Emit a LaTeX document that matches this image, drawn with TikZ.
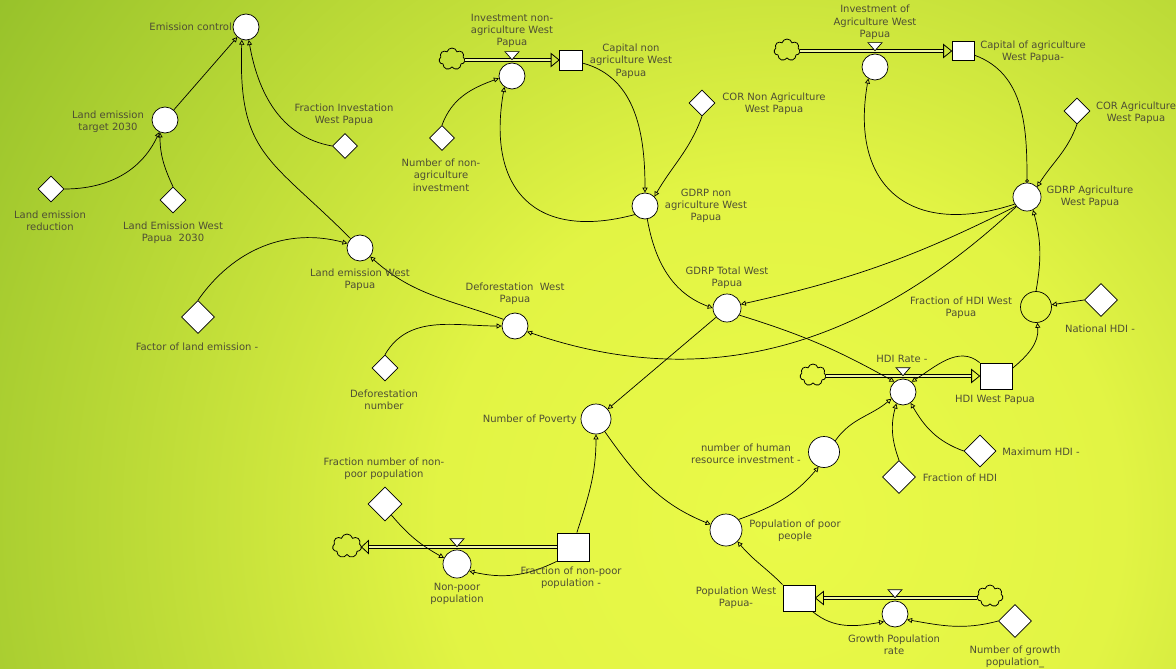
\documentclass[tikz,border=0pt]{standalone}
\usepackage{fontspec}
\setmainfont{DejaVu Sans}
\usetikzlibrary{shapes.geometric,shapes.symbols,arrows.meta}
\definecolor{txt}{RGB}{78,78,52}
\definecolor{bgA}{RGB}{234,250,72}
\definecolor{bgB}{RGB}{226,244,68}
\definecolor{bgC}{RGB}{150,193,42}
\definecolor{pipein}{RGB}{238,248,160}
\pgfdeclareradialshading{bgshade}{\pgfpoint{0bp}{0bp}}{color(0bp)=(bgA); color(9bp)=(bgB); color(25bp)=(bgC); color(50bp)=(bgC)}
\begin{document}
\begin{tikzpicture}[x=1pt,y=1pt,
  aux/.style={circle,draw,fill=white,line width=0.7pt,minimum size=26pt,inner sep=0pt},
  cons/.style={diamond,draw,fill=white,line width=0.7pt,minimum size=26pt,inner sep=0pt},
  stock/.style={rectangle,draw,fill=white,line width=0.8pt,inner sep=0pt},
  cl/.style={cloud,cloud puffs=7,aspect=1.15,draw,line width=0.8pt,minimum width=26pt,minimum height=22pt,inner sep=0pt},
  lbl/.style={text=txt,align=center,font=\fontsize{10}{12.3}\selectfont,inner sep=0pt},
  link/.style={line width=0.7pt,-{Triangle[open,length=5pt,width=5pt]}},
  olink/.style={line width=0.7pt,-{Circle[open,length=3.5pt]}},
  pipe/.style={line width=1.1pt,double=pipein,double distance=2.2pt},
  ftip/.style={line width=0.8pt},
  valve/.style={line width=0.7pt,fill=white}
]
\useasboundingbox (0,0) rectangle (1176,-669);
\begin{scope}
\clip (0,0) rectangle (1176,-669);
\fill[bgC] (0,0) rectangle (1176,-669);
\shade[shading=bgshade] (780,-520) circle (950);
\end{scope}

% auxiliaries
\node[aux] (EC) at (246,-27) {};
\node[aux] (LET) at (165,-120) {};
\node[aux] (LEWP) at (360,-248) {};
\node[aux] (DWP) at (515,-326) {};
\node[aux,minimum size=30pt] (NP) at (596,-419) {};
\node[aux] (INA) at (512,-76) {};
\node[aux] (GNA) at (645,-206) {};
\node[aux] (IA) at (875,-67) {};
\node[aux,minimum size=28pt] (GA) at (1027,-197) {};
\node[aux,minimum size=28pt] (GT) at (727,-308) {};
\node[aux,fill=none,minimum size=31pt] (FHDI) at (1036,-307) {};
\node[aux] (HDIR) at (903,-392) {};
\node[aux,minimum size=31pt] (NHRI) at (824,-452) {};
\node[aux,minimum size=32pt] (PP) at (726,-530) {};
\node[aux,minimum size=28pt] (NPP) at (457,-564) {};
\node[aux] (GPR) at (895,-614) {};

% constants
\node[cons] (LER) at (51,-189) {};
\node[cons] (LEW30) at (173,-200) {};
\node[cons,minimum size=25pt] (FIWP) at (345,-146) {};
\node[cons,minimum size=33pt] (FLE) at (198,-317) {};
\node[cons] (DN) at (385,-368) {};
\node[cons,minimum size=25pt] (NNAI) at (442,-138) {};
\node[cons] (CORNA) at (702,-103) {};
\node[cons] (CORA) at (1077,-111) {};
\node[cons,minimum size=33pt] (NHDI) at (1101,-300) {};
\node[cons,minimum size=32pt] (MHDI) at (980,-451) {};
\node[cons,minimum size=33pt] (FHDIc) at (899,-477) {};
\node[cons,minimum size=34pt] (FNNP) at (385,-504) {};
\node[cons,minimum size=33pt] (NGP) at (1015,-621) {};

% stocks
\node[stock,minimum width=23pt,minimum height=20pt] (CNA) at (571,-60) {};
\node[stock,minimum width=22pt,minimum height=19pt] (CA) at (963,-51) {};
\node[stock,minimum width=32pt,minimum height=26pt] (HDIW) at (996,-376) {};
\node[stock,minimum width=32pt,minimum height=28pt] (FNP) at (573,-547) {};
\node[stock,minimum width=32pt,minimum height=26pt] (PWP) at (799,-598) {};

% clouds
\node[cl] (C1) at (452,-59) {};
\node[cl] (C2) at (787,-50) {};
\node[cl] (C3) at (813,-375) {};
\node[cl,minimum width=29pt,minimum height=24pt] (C4) at (347,-546) {};
\node[cl] (C5) at (990,-596) {};

% flow 1
\coordinate (S1) at (C1.east |- CNA.west);
\coordinate (T1) at ([xshift=-8pt]CNA.west);
\draw[pipe] (S1) -- (T1);
\draw[ftip] ([yshift=6.5pt]T1) -- (CNA.west) -- ([yshift=-6.5pt]T1) -- cycle;
\draw[valve] ([yshift=3pt]INA.north) -- ([shift={(-7pt,11pt)}]INA.north) -- ([shift={(7pt,11pt)}]INA.north) -- cycle;
% flow 2
\coordinate (S2) at (C2.east |- CA.west);
\coordinate (T2) at ([xshift=-8pt]CA.west);
\draw[pipe] (S2) -- (T2);
\draw[ftip] ([yshift=6.5pt]T2) -- (CA.west) -- ([yshift=-6.5pt]T2) -- cycle;
\draw[valve] ([yshift=3pt]IA.north) -- ([shift={(-7pt,11pt)}]IA.north) -- ([shift={(7pt,11pt)}]IA.north) -- cycle;
% flow 3
\coordinate (S3) at (C3.east |- HDIW.west);
\coordinate (T3) at ([xshift=-8pt]HDIW.west);
\draw[pipe] (S3) -- (T3);
\draw[ftip] ([yshift=6.5pt]T3) -- (HDIW.west) -- ([yshift=-6.5pt]T3) -- cycle;
\draw[valve] ([yshift=3pt]HDIR.north) -- ([shift={(-7pt,11pt)}]HDIR.north) -- ([shift={(7pt,11pt)}]HDIR.north) -- cycle;
% flow 4 (outflow to cloud)
\coordinate (E4) at (C4.east |- FNP.west);
\coordinate (T4) at ([xshift=7pt]E4);
\draw[pipe] (FNP.west) -- (T4);
\draw[ftip] ([yshift=6.5pt]T4) -- (E4) -- ([yshift=-6.5pt]T4) -- cycle;
\draw[valve] ([yshift=3pt]NPP.north) -- ([shift={(-7pt,11pt)}]NPP.north) -- ([shift={(7pt,11pt)}]NPP.north) -- cycle;
% flow 5
\coordinate (S5) at (C5.west |- PWP.east);
\coordinate (T5) at ([xshift=8pt]PWP.east);
\draw[pipe] (S5) -- (T5);
\draw[ftip] ([yshift=6.5pt]T5) -- (PWP.east) -- ([yshift=-6.5pt]T5) -- cycle;
\draw[valve] ([yshift=3pt]GPR.north) -- ([shift={(-7pt,11pt)}]GPR.north) -- ([shift={(7pt,11pt)}]GPR.north) -- cycle;

% links
\draw[link] (LET) -- (EC);
\draw[link] (LER.east) to[out=0,in=-115] (LET.-115);
\draw[link] (LEW30.north) to[out=115,in=-90] (LET.-112);
\draw[link] (FIWP.west) to[out=170,in=-80] (EC.-78);
\draw[link] (LEWP.135) to[out=135,in=-92,looseness=1.3] (EC.-108);
\draw[link] (FLE.north) to[out=55,in=165] (LEWP.160);
\draw[link] (DWP.150) to[out=160,in=-42] (LEWP.-40);
\draw[link] (DN.north) to[out=60,in=180] (DWP.west);
\draw[link] (GA.-138) to[out=-137,in=-19] (DWP.-25);
\draw[link] (GT.-30) to[bend left=6] (HDIR.130);
\draw[link] (GT) -- (NP);
\draw[link] (GNA.-80) to[out=-80,in=160] (GT.180);
\draw[link] (GA.-140) to[bend left=7] (GT.15);
\draw[link] (CNA.-15) to[out=-15,in=90] (GNA.north);
\draw[link] (CORNA.south) to[out=-110,in=60] (GNA.45);
\draw[link] (GNA.-140) to[out=-165,in=-100,looseness=1.45] (INA.-125);
\draw[link] (NNAI.north) to[out=70,in=-160] (INA.-170);
\draw[olink] (CA.-20) to[out=-20,in=90] (GA.north);
\draw[link] (CORA.south) to[out=-110,in=58] (GA.45);
\draw[link] (GA.-150) to[out=-162,in=-100,looseness=1.45] (IA.-120);
\draw[link] (FHDI.north) to[out=80,in=-75] (GA.-65);
\draw[link] (NHDI.west) -- (FHDI);
\draw[link] (HDIW.25) to[out=40,in=-85] (FHDI.-85);
\draw[link] (HDIW.north west) to[out=140,in=32] (HDIR.50);
\draw[link] (NHRI.45) to[out=55,in=-140] (HDIR.-150);
\draw[link] (FHDIc.north) to[out=110,in=-105] (HDIR.-120);
\draw[link] (MHDI.west) to[out=160,in=-60] (HDIR.-55);
\draw[link] (PP.40) to[out=20,in=-130] (NHRI.-110);
\draw[link] (NP.-55) to[out=-55,in=158] (PP.160);
\draw[link] (FNP.75) to[out=72,in=-90] (NP.south);
\draw[link] (FNP.south west) to[out=-154,in=-13] (NPP.-30);
\draw[link] (FNNP.-60) to[out=-50,in=151] (NPP.155);
\draw[link] (PWP.north west) to[out=135,in=-50] (PP.-45);
\draw[link] (PWP.-45) to[out=-40,in=-170] (GPR.-145);
\draw[link] (NGP.west) to[out=-165,in=-10] (GPR.-25);

% labels
\node[lbl,anchor=east] (tEC) at (232,-27) {Emission control};
\node[lbl] (tLET) at (108,-121.5) {Land emission\\target 2030};
\node[lbl] (tLER) at (50,-221) {Land emission\\reduction};
\node[lbl] (tLEW30) at (173,-232.5) {Land Emission West\\Papua\ \ 2030};
\node[lbl] (tFIWP) at (344,-114.5) {Fraction Investation\\West Papua};
\node[lbl] (tLEWP) at (360,-280) {Land emission West\\Papua};
\node[lbl] (tDWP) at (515,-294) {Deforestation\ \ West\\Papua};
\node[lbl] (tFLE) at (197,-347) {Factor of land emission -};
\node[lbl] (tDN) at (384,-400) {Deforestation\\number};
\node[lbl,anchor=east] (tNP) at (577,-420) {Number of Poverty};
\node[lbl] (tINA) at (512,-31) {Investment non-\\agriculture West\\Papua};
\node[lbl] (tCNA) at (631,-61) {Capital non\\agriculture West\\Papua};
\node[lbl] (tNNAI) at (441,-175) {Number of non-\\agriculture\\investment};
\node[lbl] (tCORNA) at (774,-104) {COR Non Agriculture\\West Papua};
\node[lbl] (tGNA) at (706,-206) {GDRP non\\agriculture West\\Papua};
\node[lbl] (tIA) at (875,-22.5) {Investment of\\Agriculture West\\Papua};
\node[lbl] (tCA) at (1033,-52) {Capital of agriculture\\West Papua-};
\node[lbl] (tCORA) at (1136,-112.5) {COR Agriculture\\West Papua};
\node[lbl] (tGA) at (1090,-197) {GDRP Agriculture\\West Papua};
\node[lbl] (tGT) at (727,-277.5) {GDRP Total West\\Papua};
\node[lbl] (tFHDI) at (961,-307.5) {Fraction of HDI West\\Papua};
\node[lbl] (tNHDI) at (1100,-329) {National HDI -};
\node[lbl] (tHDIR) at (902,-359) {HDI Rate -};
\node[lbl] (tHDIW) at (995,-400) {HDI West Papua};
\node[lbl] (tNHRI) at (746,-454) {number of human\\resource investment -};
\node[lbl] (tMHDI) at (1041,-452) {Maximum HDI -};
\node[lbl] (tFHDIc) at (960,-478) {Fraction of HDI};
\node[lbl] (tFNNP) at (384,-469) {Fraction number of non-\\poor population};
\node[lbl] (tFNP) at (571,-578) {Fraction of non-poor\\population -};
\node[lbl] (tNPP) at (457,-594) {Non-poor\\population};
\node[lbl] (tPP) at (795,-531) {Population of poor\\people};
\node[lbl] (tPWP) at (736,-598) {Population West\\Papua-};
\node[lbl] (tGPR) at (894,-645) {Growth Population\\rate};
\node[lbl] (tNGP) at (1015,-657) {Number of growth\\population\_};
\end{tikzpicture}
\end{document}
